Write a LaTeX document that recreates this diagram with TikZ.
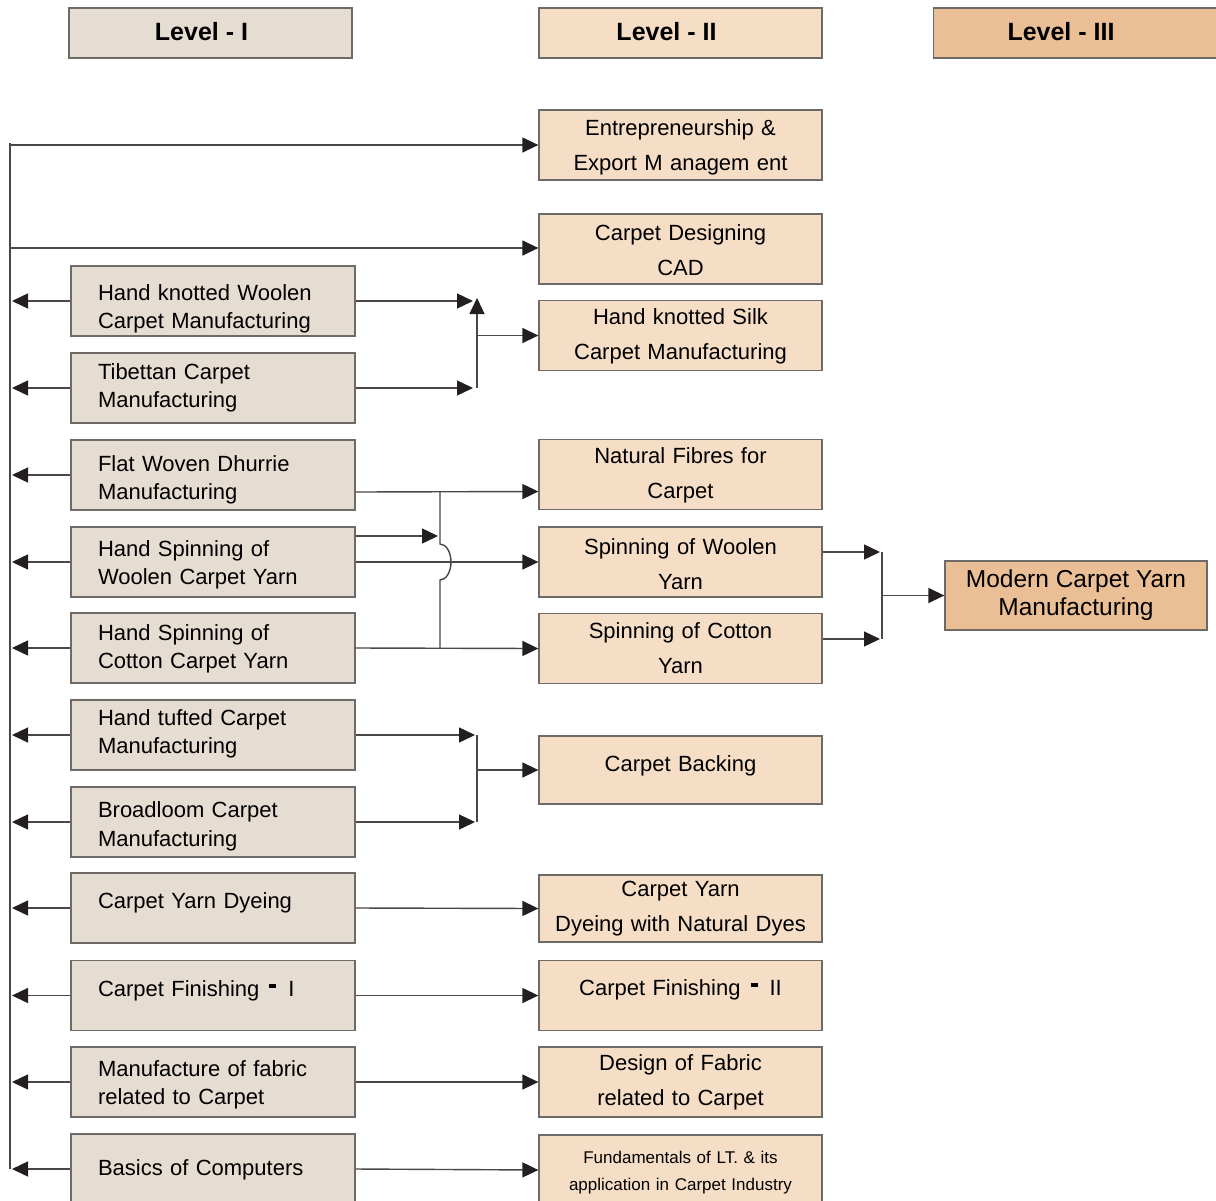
\documentclass[tikz,border=0pt]{standalone}
\usepackage{fontspec}
\setmainfont{Liberation Sans}
\usetikzlibrary{arrows.meta}
\definecolor{fillA}{HTML}{E5DCD2}
\definecolor{fillB}{HTML}{F5DEC5}
\definecolor{fillC}{HTML}{EBBF95}
\definecolor{edgec}{HTML}{6E6A68}
\definecolor{linec}{HTML}{4A4747}
\definecolor{tipc}{HTML}{231F20}
\tikzset{
  hdr/.style={draw=edgec, line width=1.3pt, minimum width=283pt, minimum height=50pt, inner sep=0pt},
  htxt/.style={inner sep=0pt, font=\fontsize{25}{28}\selectfont\bfseries},
  lbox/.style={draw=edgec, line width=1.3pt, fill=fillA, minimum width=284pt, minimum height=70pt, inner sep=0pt},
  ltxt/.style={text width=230pt, inner sep=0pt, align=left, font=\fontsize{22}{28.5}\selectfont},
  rbox/.style={draw=edgec, line width=1.3pt, fill=fillB, minimum width=283pt, minimum height=70pt, inner sep=0pt},
  rtxt/.style={text width=283pt, inner sep=0pt, align=center, font=\fontsize{22}{35}\selectfont},
  ln/.style={draw=linec, line width=1.4pt},
  arr/.style={ln, -{Triangle[length=16pt,width=15pt,color=tipc]}},
}
\newcommand\lbx[4]{\node[lbox] (#1) at (213,#2) {};
  \node[ltxt] (#1-t) at (213,#2+#3) {#4};}
\newcommand\rbx[5][]{\node[rbox,#1] (#2) at (680.5,#3) {};
  \node[rtxt] (#2-t) at (680.5,#3+#4) {#5};}
\newcommand\fdash{\hspace{10pt}\rule[8.5pt]{7pt}{3.5pt}\hspace{12pt}}
\begin{document}
\begin{tikzpicture}[x=1pt,y=-1pt]
\useasboundingbox (0,0) rectangle (1216,1200);
% headers
\node[hdr, fill=fillA] (H1) at (210.5,33) {};
\node[hdr, fill=fillB] (H2) at (680.5,33) {};
\node[hdr, fill=fillC] (H3) at (1075,33) {};
\node[htxt] (H1-t) at (201.5,31.5) {Level - I};
\node[htxt] (H2-t) at (666.5,31.5) {Level - II};
\node[htxt] (H3-t) at (1061,31.5) {Level - III};
% left column
\lbx{HKW}{301}{8}{Hand knotted Woolen\\Carpet Manufacturing}
\lbx{TIB}{388}{0}{Tibettan Carpet\\Manufacturing}
\lbx{FLAT}{475}{5}{Flat Woven Dhurrie\\Manufacturing}
\lbx{HSW}{562}{3}{Hand Spinning of\\Woolen Carpet Yarn}
\lbx{HSC}{648}{1}{Hand Spinning of\\Cotton Carpet Yarn}
\lbx{TUF}{735}{-1}{Hand tufted Carpet\\Manufacturing}
\lbx{BRO}{822}{4.5}{Broadloom Carpet\\Manufacturing}
\lbx{DYE}{908}{-5}{Carpet Yarn Dyeing}
\lbx{FIN1}{995.5}{-5}{Carpet Finishing\fdash I}
\lbx{MAN}{1082}{3}{Manufacture of fabric\\related to Carpet}
\lbx{BAS}{1169}{1}{Basics of Computers}
% right column
\rbx{ENT}{145}{2}{Entrepreneurship \&\\Export M anagem ent}
\rbx{CAD}{249}{1}{Carpet Designing\\CAD}
\rbx{SILK}{335.5}{1}{Hand knotted Silk\\Carpet Manufacturing}
\rbx{NAT}{474.5}{1}{Natural Fibres for\\Carpet}
\rbx{SPW}{562}{2}{Spinning of Woolen\\Yarn}
\rbx{SPC}{648.5}{0}{Spinning of Cotton\\Yarn}
\rbx[minimum height=68pt]{BACK}{770}{-4}{Carpet Backing}
\rbx[minimum height=67pt]{DYN}{908.5}{0}{Carpet Yarn\\Dyeing with Natural Dyes}
\rbx{FIN2}{995.5}{-6}{Carpet Finishing\fdash II}
\rbx{DES}{1082}{0}{Design of Fabric\\related to Carpet}
\node[rbox] (FUND) at (680.5,1170) {};
\node[rtxt, font=\fontsize{17}{27}\selectfont] (FUND-t) at (680.5,1173) {Fundamentals of LT. \& its\\application in Carpet Industry};
% level III
\node[draw=edgec, line width=1.3pt, fill=fillC, minimum width=262pt, minimum height=69pt, inner sep=0pt,
  align=center, font=\fontsize{24.5}{28}\selectfont] (MOD) at (1076,595.5) {Modern Carpet Yarn\\Manufacturing};
% left spine
\coordinate (sTop) at (10,143);
\coordinate (sBot) at (10,1169);
\draw[ln] (sTop) -- (sBot);
\coordinate (sE) at (10,145);
\coordinate (sC) at (10,248);
\draw[arr] (sE) -- (ENT.west);
\draw[arr] (sC) -- (CAD.west |- sC);
\foreach \n in {HKW,TIB,FLAT,HSW,HSC,TUF,BRO,DYE,FIN1,MAN,BAS}{
  \draw[arr] (\n.west) -- (\n.west -| 12,0);
}
% HKW + TIB -> SILK
\coordinate (j1t) at (477,298);
\coordinate (j1b) at (477,388);
\coordinate (j1m) at (477,335.5);
\draw[arr] (HKW.east) -- (473,301);
\draw[arr] (TIB.east) -- (473,388);
\draw[arr] (j1b) -- (j1t);
\draw[arr] (j1m) -- (SILK.west);
% flat / spinning block
\draw[arr] ([yshift=-17pt]FLAT.east) -- ([yshift=-17pt]NAT.west);
\coordinate (jh) at (438,536);
\draw[arr] ([yshift=26pt]HSW.east) -- (jh);
\draw[arr] (HSW.east) -- (SPW.west);
\draw[arr] (HSC.east) -- (SPC.west);
\coordinate (v1) at (440,492);
\coordinate (v2) at (440,544);
\coordinate (v3) at (440,648);
\draw[ln] (v1) -- (v2) arc[start angle=-90, end angle=90, x radius=11, y radius=18] -- (v3);
% level III
\coordinate (k1) at (882,552);
\coordinate (k2) at (882,639);
\coordinate (km) at (882,595.5);
\draw[arr] ([yshift=10pt]SPW.east) -- (880,552);
\draw[arr] ([yshift=9.5pt]SPC.east) -- (880,639);
\draw[ln] (k1) -- (k2);
\draw[arr] (km) -- (MOD.west);
% tufted + broadloom -> backing
\coordinate (b1) at (477,735);
\coordinate (b2) at (477,822);
\coordinate (bm) at (477,770);
\draw[arr] (TUF.east) -- (475,735);
\draw[arr] (BRO.east) -- (475,822);
\draw[ln] (b1) -- (b2);
\draw[arr] (bm) -- (BACK.west);
% straight pairs
\draw[arr] (DYE.east) -- (DYN.west);
\draw[arr] (FIN1.east) -- (FIN2.west);
\draw[arr] (MAN.east) -- (DES.west);
\draw[arr] (BAS.east) -- (FUND.west);
\end{tikzpicture}
\end{document}
